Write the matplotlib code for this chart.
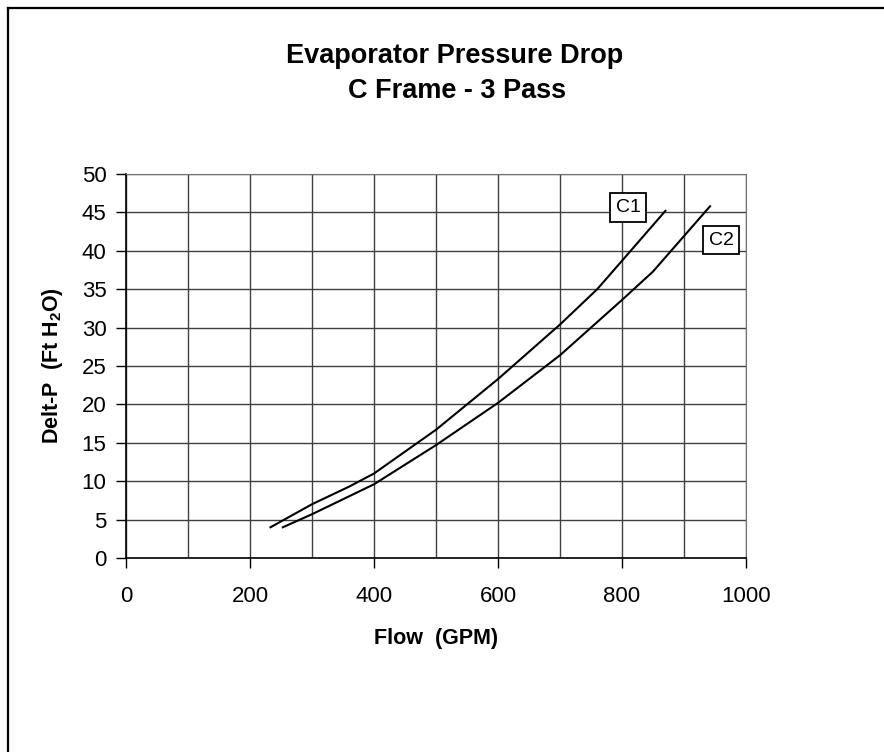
import matplotlib.pyplot as plt
from matplotlib.lines import Line2D

plt.rcParams['font.family'] = ['Liberation Sans', 'DejaVu Sans']
plt.rcParams['mathtext.default'] = 'regular'

# Dados
c1_flow = [233, 300, 360, 400, 500, 600, 700, 760, 800, 870]
c1_dp = [4.0, 7.0, 9.3, 11.0, 16.7, 23.3, 30.4, 35.0, 38.7, 45.2]
c2_flow = [253, 300, 400, 500, 600, 700, 800, 850, 942]
c2_dp = [4.0, 5.7, 9.6, 14.7, 20.2, 26.4, 33.6, 37.3, 45.8]
x_ticks = [0, 200, 400, 600, 800, 1000]
y_ticks = list(range(0, 51, 5))

fig = plt.figure(figsize=(8.84, 7.52), dpi=100)
ax = fig.add_axes([126 / 884, 1 - 558 / 752, 620 / 884, 384 / 752])

ax.plot(c1_flow, c1_dp, color="black", linewidth=1.5)
ax.plot(c2_flow, c2_dp, color="black", linewidth=1.5)

ax.set_xlim(0, 1000)
ax.set_ylim(0, 50)
ax.set_xticks(x_ticks)
ax.set_xticks(range(100, 1000, 200), minor=True)
ax.set_yticks(y_ticks)
ax.tick_params(which="minor", length=0)
ax.tick_params(which="major", direction="out", length=7, width=1,
               labelsize=16, pad=13, colors="black")
ax.tick_params(axis="y", pad=7)
ax.grid(True, which="both", color="0.25", linewidth=1)
ax.set_axisbelow(True)

for lado in ["top", "right"]:
    ax.spines[lado].set_color("0.45")
for lado in ["left", "bottom"]:
    ax.spines[lado].set_color("black")
    ax.spines[lado].set_linewidth(1.2)

ax.set_xlabel("Flow  (GPM)", fontsize=15.5, fontweight="bold", labelpad=15)
ax.set_ylabel("Delt-P  (Ft H$_2$O)", fontsize=15.5, fontweight="bold", labelpad=12)

# Rótulos das curvas
caixa = dict(boxstyle="square,pad=0.3", facecolor="white", edgecolor="black", linewidth=1.3)
ax.text(810, 45.6, "C1", fontsize=14, ha="center", va="center", bbox=caixa)
ax.text(960, 41.4, "C2", fontsize=14, ha="center", va="center", bbox=caixa)

fig.text(455 / 884, 1 - 56 / 752, "Evaporator Pressure Drop", fontsize=19.5,
         fontweight="bold", ha="center", va="center")
fig.text(457 / 884, 1 - 91 / 752, "C Frame - 3 Pass", fontsize=19.5,
         fontweight="bold", ha="center", va="center")

# Borda da figura (só topo e esquerda)
fig.add_artist(Line2D([8 / 884, 1], [1 - 8 / 752, 1 - 8 / 752], color="black", linewidth=1.6))
fig.add_artist(Line2D([8 / 884, 8 / 884], [0, 1 - 8 / 752], color="black", linewidth=1.6))

fig.savefig("out.png", dpi=100)
